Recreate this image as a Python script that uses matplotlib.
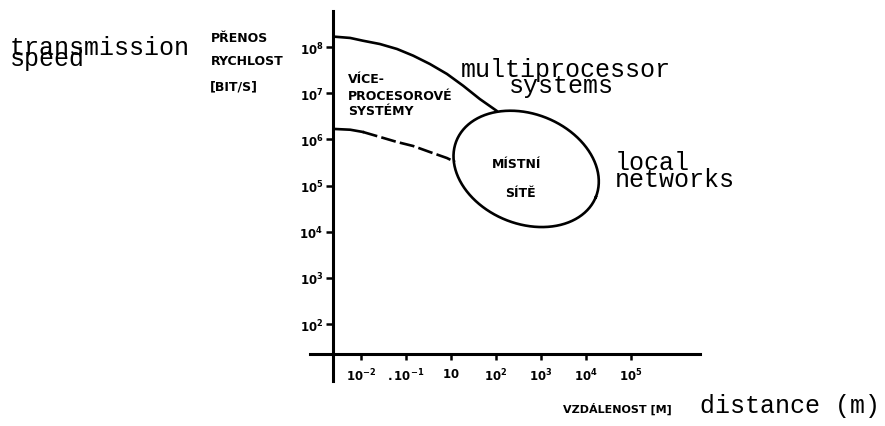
import matplotlib

matplotlib.use("Agg")
import matplotlib.pyplot as plt
import numpy as np
from matplotlib.ticker import NullLocator

FIG_W, FIG_H = 885, 427

# calibration of the scanned axes (pixels -> data)
X_PX_REF, X_PX_STEP = 361, 45.0      # pixel of tick position 1, pixels per tick step
Y_PX_REF, Y_PX_DECADE = 48, 46.2     # pixel of 1e8, pixels per decade

# axis ticks (the original skips 10^0)
X_TICK_POS = [1, 2, 3, 4, 5, 6, 7]
X_TICK_LABELS = [r"$10^{-2}$", r"$.10^{-1}$", r"$10$", r"$10^{2}$", r"$10^{3}$", r"$10^{4}$", r"$10^{5}$"]
Y_TICK_EXP = [2, 3, 4, 5, 6, 7, 8]

# upper boundary: multiprocessor systems (solid)
MULTI_POS = [0.42, 0.76, 1.04, 1.42, 1.80, 2.16, 2.53, 2.91, 3.27, 3.64, 4.02]
MULTI_SPEED = [1.67e8, 1.57e8, 1.37e8, 1.16e8, 9.06e7, 6.49e7, 4.29e7, 2.61e7, 1.45e7, 7.48e6, 4.12e6]

# lower boundary (solid start, then dashed)
LOWER_POS = [0.42, 0.76, 1.04, 1.42, 1.80, 2.16, 2.53, 2.91, 3.09]
LOWER_SPEED = [1.68e6, 1.62e6, 1.45e6, 1.13e6, 8.79e5, 7.19e5, 5.33e5, 3.95e5, 3.24e5]

# local networks region (ellipse)
LAN_CENTER_POS = 4.67
LAN_CENTER_SPEED = 2.3e5
LAN_SEMI_MAJOR = 1.67   # in tick steps
LAN_SEMI_MINOR = 1.22
LAN_TILT_DEG = -22

MONO = "Liberation Mono"
SANS = "DejaVu Sans"


def px_to_x(px):
    return (px - X_PX_REF) / X_PX_STEP + 1


def py_to_y(py):
    return 10 ** (8 - (py - Y_PX_REF) / Y_PX_DECADE)


def fig_xy(px, py):
    return px / FIG_W, 1 - py / FIG_H


def ellipse_points():
    t = np.linspace(0, 2 * np.pi, 200)
    th = np.deg2rad(LAN_TILT_DEG)
    a = LAN_SEMI_MAJOR * X_PX_STEP
    b = LAN_SEMI_MINOR * X_PX_STEP
    dx = a * np.cos(t) * np.cos(th) - b * np.sin(t) * np.sin(th)
    dy = a * np.cos(t) * np.sin(th) + b * np.sin(t) * np.cos(th)
    xs = LAN_CENTER_POS + dx / X_PX_STEP
    ys = LAN_CENTER_SPEED * 10 ** (dy / Y_PX_DECADE)
    return xs, ys


def main():
    plt.rcParams["mathtext.fontset"] = "dejavusans"
    plt.rcParams["mathtext.default"] = "bf"

    fig = plt.figure(figsize=(FIG_W / 100, FIG_H / 100), dpi=100)
    ax = fig.add_axes([0, 0, 1, 1])
    ax.set_yscale("log")
    ax.set_xlim(px_to_x(0), px_to_x(FIG_W))
    ax.set_ylim(py_to_y(FIG_H), py_to_y(0))
    ax.patch.set_alpha(0)

    for side in ["top", "right"]:
        ax.spines[side].set_visible(False)
    ax.spines["left"].set_position(("data", px_to_x(333)))
    ax.spines["left"].set_bounds(py_to_y(382), py_to_y(12))
    ax.spines["bottom"].set_position(("data", py_to_y(355)))
    ax.spines["bottom"].set_bounds(px_to_x(310), px_to_x(700))
    for side in ["left", "bottom"]:
        ax.spines[side].set_linewidth(2.2)

    ax.set_xticks(X_TICK_POS, X_TICK_LABELS)
    ax.set_yticks([10.0 ** k for k in Y_TICK_EXP], [rf"$10^{{{k}}}$" for k in Y_TICK_EXP])
    ax.yaxis.set_minor_locator(NullLocator())
    ax.xaxis.set_minor_locator(NullLocator())
    ax.tick_params(axis="x", direction="out", length=4, width=1.8, pad=5, labelsize=8.5)
    ax.tick_params(axis="y", direction="out", length=5, width=1.8, pad=2, labelsize=8.5)

    ax.plot(MULTI_POS, MULTI_SPEED, color="black", lw=1.9, solid_capstyle="round", solid_joinstyle="round")
    ax.plot(LOWER_POS[:3], LOWER_SPEED[:3], color="black", lw=1.9, solid_joinstyle="round")
    ax.plot(LOWER_POS[2:], LOWER_SPEED[2:], color="black", lw=1.9, linestyle=(0, (5.7, 1.6)))
    ex, ey = ellipse_points()
    ax.plot(ex, ey, color="black", lw=1.9)

    # typewriter English labels
    mono = dict(family=MONO, fontsize=18, va="baseline", ha="left", color="black")
    fig.text(*fig_xy(10, 55), "transmission", **mono)
    fig.text(*fig_xy(10, 66), "speed", **mono)
    fig.text(*fig_xy(461, 77), "multiprocessor", **mono)
    fig.text(*fig_xy(509, 93), "systems", **mono)
    fig.text(*fig_xy(615, 170), "local", **mono)
    fig.text(*fig_xy(615, 187), "networks", **mono)
    fig.text(*fig_xy(700, 413), "distance (m)", **mono)

    # Czech labels
    sans = dict(family=SANS, fontweight="bold", fontsize=9, va="baseline", color="black")
    fig.text(*fig_xy(211, 42), "PŘENOS", ha="left", **sans)
    fig.text(*fig_xy(211, 65), "RYCHLOST", ha="left", **sans)
    fig.text(*fig_xy(210, 90), "[BIT/S]", ha="left", **sans)
    fig.text(*fig_xy(348, 83), "VÍCE-", ha="left", **sans)
    fig.text(*fig_xy(348, 100), "PROCESOROVÉ", ha="left", **sans)
    fig.text(*fig_xy(348, 115), "SYSTÉMY", ha="left", **sans)
    fig.text(*fig_xy(517, 168), "MÍSTNÍ", ha="center", **sans)
    fig.text(*fig_xy(520, 197), "SÍTĚ", ha="center", **sans)
    sans["fontsize"] = 8
    fig.text(*fig_xy(563, 413), "VZDÁLENOST [M]", ha="left", **sans)

    fig.savefig("out.png", dpi=100)
    plt.close(fig)


if __name__ == "__main__":
    main()
